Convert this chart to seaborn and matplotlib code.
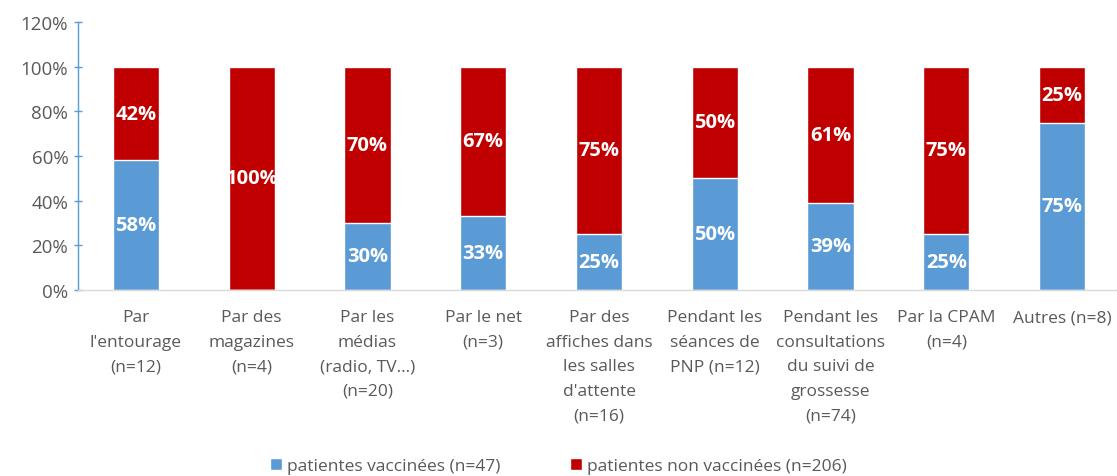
import numpy as np
import pandas as pd
import matplotlib
matplotlib.use('Agg')
import matplotlib.pyplot as plt
import seaborn as sns
from matplotlib.patches import Patch

sns.set_style('white')
plt.rcParams['font.family'] = ['Open Sans', 'DejaVu Sans']

# data
categories = ["Par\nl'entourage\n(n=12)", "Par des\nmagazines\n(n=4)",
              "Par les\nmédias\n(radio, TV...)\n(n=20)", "Par le net\n(n=3)",
              "Par des\naffiches dans\nles salles\nd'attente\n(n=16)",
              "Pendant les\nséances de\nPNP (n=12)",
              "Pendant les\nconsultations\ndu suivi de\ngrossesse\n(n=74)",
              "Par la CPAM\n(n=4)", "Autres (n=8)"]
vaccinees = [58, 0, 30, 33, 25, 50, 39, 25, 75]
non_vaccinees = [42, 100, 70, 67, 75, 50, 61, 75, 25]
y_ticks = [0, 20, 40, 60, 80, 100, 120]
legend_labels = ['patientes vaccinées (n=47)', 'patientes non vaccinées (n=206)']

blue = '#5B9BD5'
red = '#C00000'
grey = '#595959'

df = pd.DataFrame({'cat': categories, 'vac': vaccinees, 'non': non_vaccinees})
df['total'] = df['vac'] + df['non']

fig = plt.figure(figsize=(11.17, 4.77), dpi=100)
ax = fig.add_axes([78/1117, 1-291/477, 1042/1117, 268/477])

# red bar = full stack, blue drawn on top of it
sns.barplot(data=df, x='cat', y='total', color=red, width=0.4, saturation=1, ax=ax)
sns.barplot(data=df, x='cat', y='vac', color=blue, width=0.4, saturation=1, ax=ax)

for i, r in df.iterrows():
    if r['vac'] > 0:
        ax.text(i, r['vac']/2, f"{r['vac']}%", ha='center', va='center',
                color='white', fontsize=14.5, fontweight='bold')
    if r['non'] > 0:
        ax.text(i, r['vac'] + r['non']/2, f"{r['non']}%", ha='center', va='center',
                color='white', fontsize=14.5, fontweight='bold')

ax.set_ylim(0, 120)
ax.set_xlim(-0.5, 8.5)
ax.set_yticks(y_ticks)
ax.set_yticklabels([f'{t}%' for t in y_ticks], color=grey, fontsize=13.5)
ax.set_xlabel('')
ax.set_ylabel('')
ax.tick_params(axis='x', length=0, labelsize=12.5, labelcolor=grey, pad=14)
for lab in ax.get_xticklabels():
    lab.set_linespacing(1.7)
ax.tick_params(axis='y', length=6, width=1, color=blue, direction='inout', pad=4, left=True)
for s in ['top', 'right']:
    ax.spines[s].set_visible(False)
ax.spines['left'].set_color(blue)
ax.spines['left'].set_linewidth(1)
ax.spines['bottom'].set_color('#D9D9D9')
ax.spines['bottom'].set_linewidth(1)

handles = [Patch(facecolor=blue), Patch(facecolor=red)]
fig.legend(handles, legend_labels, loc='center', bbox_to_anchor=(0.5, 1-467/477),
           ncol=2, frameon=False, fontsize=12.5, handlelength=0.7, handleheight=0.7,
           handletextpad=0.3, columnspacing=4, labelcolor=grey)

fig.savefig('out.png', dpi=100)
